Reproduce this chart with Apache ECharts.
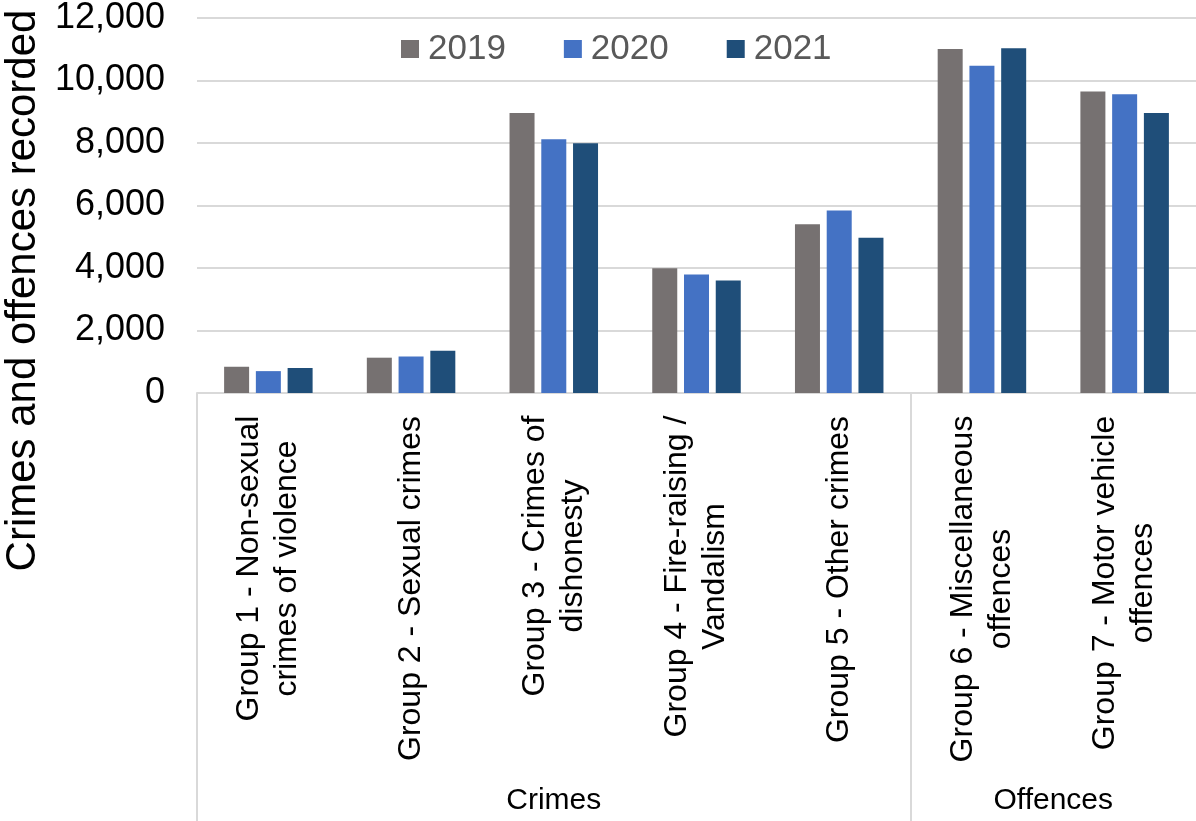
<!DOCTYPE html>
<html>
<head>
<meta charset="utf-8">
<script src="https://cdn.jsdelivr.net/npm/echarts@6/dist/echarts.min.js"></script>
<style>
html,body{margin:0;padding:0;background:#fff;}
#chart{width:1196px;height:821px;}
</style>
</head>
<body>
<div id="chart"></div>
<script>
const categories = [
  'Group 1 - Non-sexual\ncrimes of violence',
  'Group 2 - Sexual crimes',
  'Group 3 - Crimes of\ndishonesty',
  'Group 4 - Fire-raising /\nVandalism',
  'Group 5 - Other crimes',
  'Group 6 - Miscellaneous\noffences',
  'Group 7 - Motor vehicle\noffences'
];
const seriesNames = ['2019', '2020', '2021'];
const v2019 = [840, 1130, 8960, 3990, 5400, 11010, 9650];
const v2020 = [700, 1170, 8120, 3790, 5840, 10470, 9560];
const v2021 = [800, 1350, 7990, 3600, 4970, 11030, 8960];
const groupNames = ['Crimes', 'Offences'];
const groupSpans = [5, 2];
const yTicks = [0, 2000, 4000, 6000, 8000, 10000, 12000];

const FONT = 'Liberation Sans, Arial, sans-serif';
const catFontSize = 32;

// group boundaries and centres derived from spans
const groupBounds = [];
const groupCenters = [];
let acc = 0;
groupSpans.forEach(s => { groupBounds.push(acc); groupCenters.push(acc + s / 2); acc += s; });

// rich styles so multi-line labels are centred on each other
const cvs = document.createElement('canvas');
const ctx = cvs.getContext('2d');
ctx.font = catFontSize + 'px ' + FONT;
const rich = {};
categories.forEach((c, i) => {
  const w = Math.max.apply(null, c.split('\n').map(l => ctx.measureText(l).width));
  rich['r' + i] = { width: Math.ceil(w) + 1, align: 'center', fontSize: catFontSize, fontFamily: FONT, color: '#000', lineHeight: 38 };
});

const chart = echarts.init(document.getElementById('chart'), null, { renderer: 'canvas' });
const colors = ['#767171', '#4472C4', '#1F4E79'];
const dataSets = [v2019, v2020, v2021];

chart.setOption({
  animation: false,
  textStyle: { fontFamily: FONT },
  legend: {
    data: seriesNames,
    left: 401,
    top: 31,
    padding: 0,
    itemWidth: 18,
    itemHeight: 18,
    itemGap: 58,
    icon: 'rect',
    textStyle: { fontSize: 35, color: '#595959', fontFamily: FONT, padding: [0, 0, 0, 4], lineHeight: 36 }
  },
  grid: { left: 197, right: 0, top: 18, bottom: 428, containLabel: false, outerBoundsMode: 'none' },
  xAxis: [
    {
      type: 'category',
      data: categories,
      axisLine: { show: true, lineStyle: { color: '#d9d9d9', width: 2 } },
      axisTick: { show: false },
      axisLabel: {
        interval: 0,
        rotate: 90,
        margin: 22,
        fontSize: catFontSize,
        fontFamily: FONT,
        color: '#000',
        lineHeight: 38,
        rich: rich,
        formatter: function (value, index) {
          return value.split('\n').map(l => '{r' + index + '|' + l + '}').join('\n');
        }
      }
    },
    {
      type: 'value',
      min: 0,
      max: categories.length,
      position: 'bottom',
      axisLine: { show: false },
      splitLine: { show: false },
      axisTick: {
        show: true,
        customValues: groupBounds,
        length: 428,
        lineStyle: { color: '#d9d9d9', width: 2 }
      },
      axisLabel: {
        customValues: groupCenters,
        margin: 393,
        fontSize: 30,
        fontFamily: FONT,
        color: '#000',
        formatter: function (v) {
          const i = groupCenters.indexOf(v);
          return i >= 0 ? groupNames[i] : '';
        }
      }
    }
  ],
  yAxis: {
    type: 'value',
    min: yTicks[0],
    max: yTicks[yTicks.length - 1],
    interval: yTicks[1] - yTicks[0],
    name: 'Crimes and offences recorded',
    nameLocation: 'middle',
    nameRotate: 90,
    nameGap: 152,
    nameTextStyle: { fontSize: 42, color: '#000', fontFamily: FONT, padding: [0, 170, 0, 0] },
    axisLine: { show: false },
    axisTick: { show: false },
    splitLine: { show: true, lineStyle: { color: '#d9d9d9', width: 2 } },
    axisLabel: {
      margin: 32,
      fontSize: 36,
      fontFamily: FONT,
      color: '#000',
      formatter: v => v.toLocaleString('en-US')
    }
  },
  series: seriesNames.map((n, i) => ({
    name: n,
    type: 'bar',
    xAxisIndex: 0,
    data: dataSets[i],
    barWidth: 25,
    barGap: '27%',
    itemStyle: { color: colors[i] }
  }))
});
</script>
</body>
</html>
